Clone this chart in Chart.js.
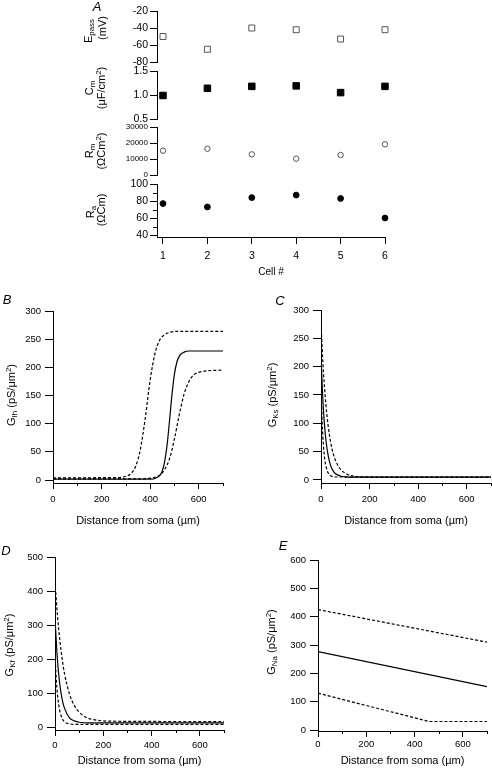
<!DOCTYPE html>
<html>
<head>
<meta charset="utf-8">
<script src="https://cdn.jsdelivr.net/npm/chart.js@4.4.0/dist/chart.umd.min.js"></script>
<style>
  body { margin: 0; background: #fff; }
  #page { position: relative; width: 492px; height: 768px; overflow: hidden; background: #fff; }
  #page canvas { position: absolute; left: 0; top: 0; }
  .lab { position: absolute; transform: translate(-50%, -50%) rotate(-90deg); white-space: nowrap;
         font-family: 'Liberation Sans', Arial, sans-serif; font-size: 11px; line-height: 1; color: #000; }
  .lab sub, .lab sup { font-size: 72%; position: relative; vertical-align: baseline; }
  .lab sub { top: 0.3em; }
  .lab sup { top: -0.45em; }
  .letter { position: absolute; transform: translate(-50%, -50%); font: italic 13px 'Liberation Sans', Arial, sans-serif; }
</style>
</head>
<body>
<div id="page">
  <canvas id="cEpass" width="492" height="768"></canvas>
  <canvas id="cCm" width="492" height="768"></canvas>
  <canvas id="cRm" width="492" height="768"></canvas>
  <canvas id="cRa" width="492" height="768"></canvas>
  <canvas id="cIh" width="492" height="768"></canvas>
  <canvas id="cKs" width="492" height="768"></canvas>
  <canvas id="cKf" width="492" height="768"></canvas>
  <canvas id="cNa" width="492" height="768"></canvas>

  <div class="letter" style="left:97px;top:6px">A</div>
  <div class="letter" style="left:7px;top:299px">B</div>
  <div class="letter" style="left:280px;top:300px">C</div>
  <div class="letter" style="left:6px;top:550px">D</div>
  <div class="letter" style="left:283px;top:545px">E</div>

  <div class="lab" style="left:88px;top:31px">E<sub>pass</sub></div>
  <div class="lab" style="left:102px;top:28px">(mV)</div>
  <div class="lab" style="left:89px;top:88px">C<sub>m</sub></div>
  <div class="lab" style="left:101px;top:88px">(&mu;F/cm<sup>2</sup>)</div>
  <div class="lab" style="left:89px;top:151px">R<sub>m</sub></div>
  <div class="lab" style="left:101px;top:151px">(&Omega;Cm<sup>2</sup>)</div>
  <div class="lab" style="left:90px;top:212px">R<sub>a</sub></div>
  <div class="lab" style="left:101px;top:210px">(&Omega;Cm)</div>

  <div class="lab" style="left:11px;top:395px">G<sub>Ih</sub> (pS/&mu;m<sup>2</sup>)</div>
  <div class="lab" style="left:272px;top:395px">G<sub>Ks</sub> (pS/&mu;m<sup>2</sup>)</div>
  <div class="lab" style="left:9px;top:645px">G<sub>Kf</sub> (pS/&mu;m<sup>2</sup>)</div>
  <div class="lab" style="left:271px;top:642px">G<sub>Na</sub> (pS/&mu;m<sup>2</sup>)</div>
</div>
<script>
// panel A: passive properties of each cell
const cells = [1, 2, 3, 4, 5, 6];
const epass = [-50, -65, -40, -42, -53, -42];
const cm = [0.99, 1.14, 1.18, 1.19, 1.05, 1.18];
const rm = [15200, 16400, 12900, 10200, 12500, 19200];
const ra = [77, 73, 84, 87, 83, 60];

// panel B: Ih conductance (solid = fit, dashed = bounds)
const ihDist = [0, 350, 400, 420, 440, 450, 460, 470, 480, 490, 500, 510, 520, 540, 560, 700];
const ihMean = [1.5, 1.5, 1.7, 2.8, 8.2, 16, 33, 63, 106, 152, 188, 209, 220, 227, 229, 229];
const ihHiDist = [0, 250, 300, 320, 340, 360, 380, 400, 420, 440, 460, 480, 520, 600, 700];
const ihHi = [4, 4.2, 6.6, 11, 24, 55, 110, 177, 225, 249, 258, 262, 264, 264, 264];
const ihLoDist = [0, 350, 400, 420, 440, 460, 480, 500, 520, 540, 560, 580, 600, 640, 700];
const ihLo = [2, 2.1, 3.2, 5, 9, 19, 38, 73, 116, 153, 175, 187, 191, 194, 195];

// panel C: Ks conductance
const ksDist = [0, 5, 10, 15, 20, 30, 40, 50, 60, 80, 100, 150, 700];
const ksMean = [220, 165, 124, 94, 71, 42, 25, 16, 11, 7, 5.6, 5, 5];
const ksHiDist = [0, 10, 20, 30, 40, 50, 60, 80, 100, 120, 150, 200, 700];
const ksHi = [275, 191, 134, 94, 66, 47, 34, 19, 12, 8, 6, 5, 5];
const ksLoDist = [0, 5, 10, 15, 20, 30, 40, 60, 700];
const ksLo = [165, 100, 61, 38, 25, 12, 7.4, 5.3, 5];

// panel D: Kf conductance
const kfDist = [0, 10, 20, 30, 40, 60, 80, 100, 150, 700];
const kfMean = [319, 198, 125, 80, 54, 27, 18, 14, 12, 12];
const kfHiDist = [0, 10, 20, 30, 40, 60, 80, 100, 130, 160, 200, 250, 700];
const kfHi = [426, 329, 255, 198, 155, 97, 63, 44, 28, 21.5, 18, 17, 16];
const kfLoDist = [0, 5, 10, 15, 20, 30, 40, 60, 80, 700];
const kfLo = [213, 143, 97, 67, 47, 25, 15, 9.4, 8, 8];

// panel E: Na conductance (straight segments)
const naDist = [0, 700];
const naMean = [277, 153];
const naHiDist = [0, 700];
const naHi = [425, 310];
const naLoDist = [0, 460, 700];
const naLo = [130, 30, 30];

// tick labels
const cellTicks = [1, 2, 3, 4, 5, 6];
const epassTicks = [-80, -60, -40, -20];
const cmTicks = [0.5, 1.0, 1.5];
const rmTicks = [0, 10000, 20000, 30000];
const raTicks = [40, 60, 80, 100];
const raMinor = [50, 70, 90];
const distTicks = [0, 200, 400, 600];
const distMinor = [100, 300, 500, 700];
const gTicks300 = [0, 50, 100, 150, 200, 250, 300];
const gTicks500 = [0, 100, 200, 300, 400, 500];
const gTicks600 = [0, 100, 200, 300, 400, 500, 600];

Chart.defaults.font.family = "'Liberation Sans', Arial, sans-serif";
Chart.defaults.color = '#000';

const W = 492, H = 768, YW = 50;

// short unlabeled ticks between the labeled ones
const minorTicks = {
  id: 'minorTicks',
  afterDraw(chart, args, o) {
    const { ctx, scales: { x, y } } = chart;
    ctx.save();
    ctx.strokeStyle = '#000';
    ctx.lineWidth = 1;
    ctx.beginPath();
    if (x.options.display) {
      o.x.forEach(v => {
        const p = Math.round(x.getPixelForValue(v)) + 0.5;
        ctx.moveTo(p, x.top);
        ctx.lineTo(p, x.top + o.xLen);
      });
    }
    o.y.forEach(v => {
      const p = Math.round(y.getPixelForValue(v)) + 0.5;
      ctx.moveTo(y.right, p);
      ctx.lineTo(y.right - o.yLen, p);
    });
    ctx.stroke();
    ctx.restore();
  }
};

function pts(xs, ys) {
  return xs.map((x, i) => ({ x: x, y: ys[i] }));
}

function curve(xs, ys, dashed, straight) {
  const ds = {
    data: pts(xs, ys), showLine: true, pointRadius: 0, borderColor: '#000', borderWidth: 1.2,
    borderDash: dashed ? [3, 2] : [], fill: false
  };
  if (!straight) ds.cubicInterpolationMode = 'monotone';
  return ds;
}

function makeChart(id, area, o) {
  const xShow = !!o.xTicks;
  const xH = xShow ? o.xH : 0;
  return new Chart(document.getElementById(id), {
    type: 'scatter',
    data: { datasets: o.datasets },
    plugins: [minorTicks],
    options: {
      responsive: false,
      animation: false,
      devicePixelRatio: 1,
      layout: {
        autoPadding: false,
        padding: { left: area.l - YW, top: area.t, right: W - area.r, bottom: H - area.b - xH }
      },
      plugins: {
        legend: { display: false },
        tooltip: { enabled: false },
        minorTicks: { x: o.xMinor || [], y: o.yMinor || [], xLen: 3, yLen: 4 }
      },
      scales: {
        x: {
          type: 'linear', display: xShow, min: o.xMin, max: o.xMax,
          afterBuildTicks: s => { s.ticks = (o.xTicks || []).map(v => ({ value: v })); },
          afterFit: s => { s.height = xH; },
          border: { display: true, color: '#000', width: 1 },
          grid: { display: true, drawOnChartArea: false, drawTicks: true, tickLength: o.xTickLen || 6, color: '#000' },
          ticks: { font: { size: o.xFont || 9.5 }, padding: o.xPad || 5, maxRotation: 0, autoSkip: false,
                   callback: v => String(v) },
          title: { display: !!o.xTitle, text: o.xTitle, font: { size: o.xTitleSize || 11 }, padding: 0 }
        },
        y: {
          type: 'linear', min: o.yMin, max: o.yMax,
          afterBuildTicks: s => { s.ticks = o.yTicks.map(v => ({ value: v })); },
          afterFit: s => { s.width = YW; },
          border: { display: true, color: '#000', width: 1 },
          grid: { display: true, drawOnChartArea: false, drawTicks: true, tickLength: o.yTickLen || 8, color: '#000' },
          ticks: { font: { size: o.yFont || 9.5 }, padding: o.yPad || 4, autoSkip: false,
                   callback: o.yFmt || (v => String(v)) }
        }
      }
    }
  });
}

// panel A
const cellRange = { xMin: 0.865, xMax: 6 };
makeChart('cEpass', { l: 157, t: 11, r: 385, b: 62 }, Object.assign({
  yMin: -80, yMax: -20, yTicks: epassTicks, yFont: 10.5, yTickLen: 7, yPad: 2,
  datasets: [{ data: pts(cells, epass), pointStyle: 'rect', pointRadius: 4.2, backgroundColor: '#fff',
               borderColor: '#555', borderWidth: 1, clip: false }]
}, cellRange));
makeChart('cCm', { l: 157, t: 71, r: 385, b: 119 }, Object.assign({
  yMin: 0.5, yMax: 1.5, yTicks: cmTicks, yFont: 10.5, yTickLen: 7, yPad: 2, yFmt: v => v.toFixed(1),
  datasets: [{ data: pts(cells, cm), pointStyle: 'rect', pointRadius: 4.6, backgroundColor: '#000',
               borderColor: '#000', borderWidth: 1, clip: false }]
}, cellRange));
makeChart('cRm', { l: 157, t: 127, r: 385, b: 175 }, Object.assign({
  yMin: 0, yMax: 30000, yTicks: rmTicks, yFont: 8, yTickLen: 7, yPad: 2,
  datasets: [{ data: pts(cells, rm), pointStyle: 'circle', pointRadius: 2.7, backgroundColor: '#fff',
               borderColor: '#555', borderWidth: 1, clip: false }]
}, cellRange));
makeChart('cRa', { l: 157, t: 184, r: 385, b: 237 }, Object.assign({
  yMin: 37.65, yMax: 100, yTicks: raTicks, yMinor: raMinor, yFont: 10.5, yTickLen: 7, yPad: 2,
  xTicks: cellTicks, xH: 41, xTickLen: 7, xPad: 6, xFont: 10.5, xTitle: 'Cell #', xTitleSize: 10,
  datasets: [{ data: pts(cells, ra), pointStyle: 'circle', pointRadius: 2.9, backgroundColor: '#000',
               borderColor: '#000', borderWidth: 1, clip: false }]
}, cellRange));

// panels B-E
const distAxis = { xMin: 0, xMax: 700, xTicks: distTicks, xMinor: distMinor, xTitle: 'Distance from soma (\u00b5m)' };
makeChart('cIh', { l: 53, t: 311, r: 223, b: 483 }, Object.assign({
  yMin: -5.3, yMax: 300, yTicks: gTicks300, xH: 44.6,
  datasets: [curve(ihHiDist, ihHi, true), curve(ihLoDist, ihLo, true), curve(ihDist, ihMean, false)]
}, distAxis));
makeChart('cKs', { l: 321, t: 310, r: 491, b: 483 }, Object.assign({
  yMin: -5.3, yMax: 300, yTicks: gTicks300, xH: 44.6,
  datasets: [curve(ksHiDist, ksHi, true), curve(ksLoDist, ksLo, true), curve(ksDist, ksMean, false)]
}, distAxis));
makeChart('cKf', { l: 55, t: 557, r: 224, b: 730 }, Object.assign({
  yMin: -8.8, yMax: 500, yTicks: gTicks500, xH: 37.6, xPad: 4,
  datasets: [curve(kfHiDist, kfHi, true), curve(kfLoDist, kfLo, true), curve(kfDist, kfMean, false)]
}, distAxis));
makeChart('cNa', { l: 318, t: 560, r: 487, b: 731 }, Object.assign({
  yMin: -3.5, yMax: 600, yTicks: gTicks600, xH: 36.6, xPad: 2,
  datasets: [curve(naHiDist, naHi, true, true), curve(naLoDist, naLo, true, true), curve(naDist, naMean, false, true)]
}, distAxis));
</script>
</body>
</html>
